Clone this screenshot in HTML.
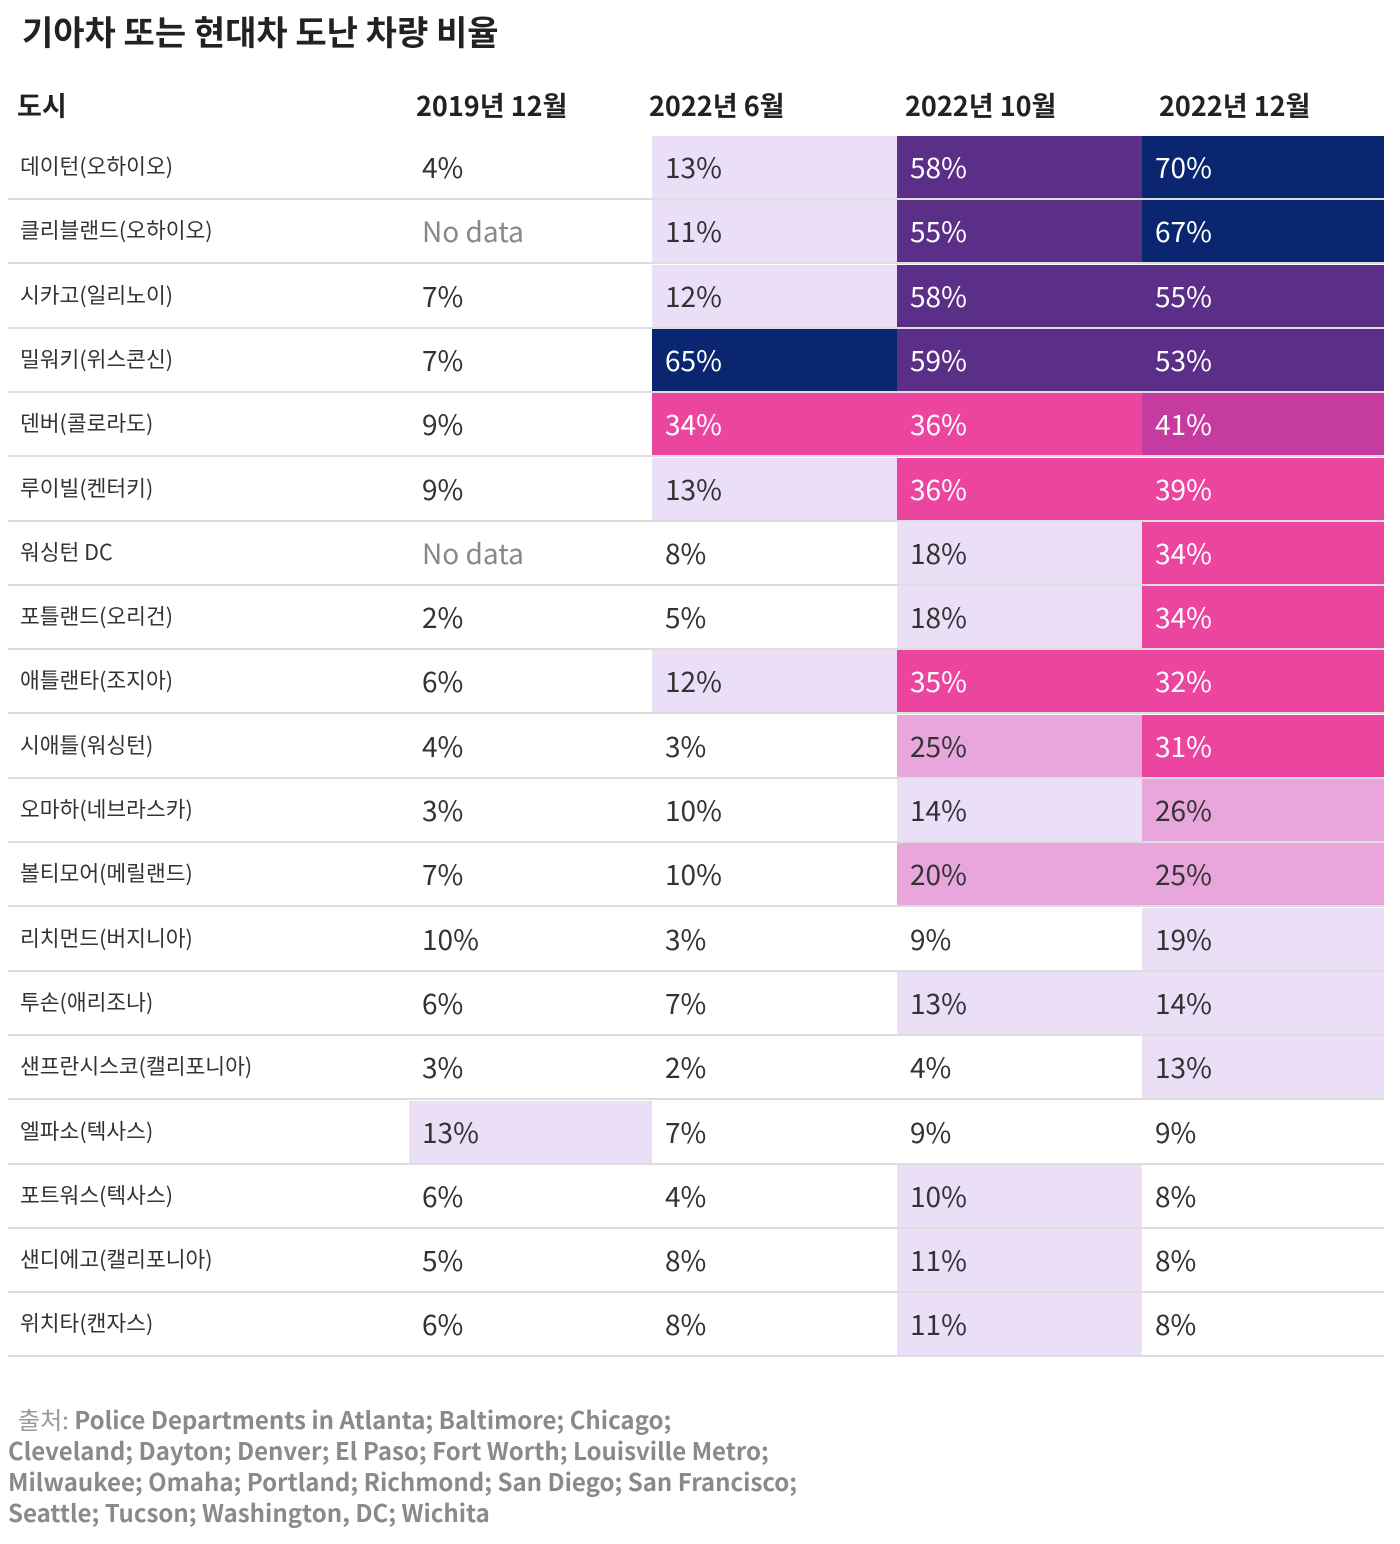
<!DOCTYPE html>
<html><head><meta charset="utf-8">
<style>
body{margin:0;width:1400px;height:1544px;background:#fff;font-family:"Noto Sans CJK KR","Liberation Sans",sans-serif;color:#222;position:relative;overflow:hidden}
#title{position:absolute;left:22px;top:6px;font-size:34px;font-weight:bold;color:#222;line-height:50px}
.hdr{position:absolute;top:85px;font-size:27px;font-weight:bold;color:#222;line-height:40px}
#tbl{position:absolute;left:8px;top:136px;width:1376px}
.row{position:absolute;left:0;width:1376px;height:64px;border-bottom:2px solid #ddd;box-sizing:border-box}
.cell{position:absolute;top:0;height:62px;line-height:62px;box-sizing:border-box;padding-left:13px;font-size:28px}
.city{font-size:21.5px;padding-left:12px;color:#333;line-height:60px}
#src{position:absolute;left:8px;top:1403px;width:900px;font-size:24px;line-height:31px;font-weight:bold;color:#8a8a8a}
</style></head><body>
<div id="title">기아차 또는 현대차 도난 차량 비율</div>
<div class="hdr" style="left:17px">도시</div>
<div class="hdr" style="left:416px">2019년 12월</div>
<div class="hdr" style="left:649px">2022년 6월</div>
<div class="hdr" style="left:905px">2022년 10월</div>
<div class="hdr" style="left:1159px">2022년 12월</div>
<div id="tbl"></div>
<div id="src"><span style="font-weight:normal;color:#999;padding-left:10px">출처: </span>Police Departments in Atlanta; Baltimore; Chicago;<br>Cleveland; Dayton; Denver; El Paso; Fort Worth; Louisville Metro;<br>Milwaukee; Omaha; Portland; Richmond; San Diego; San Francisco;<br>Seattle; Tucson; Washington, DC; Wichita</div>
<script>
const cities=["데이턴(오하이오)","클리블랜드(오하이오)","시카고(일리노이)","밀워키(위스콘신)","덴버(콜로라도)","루이빌(켄터키)","워싱턴 DC","포틀랜드(오리건)","애틀랜타(조지아)","시애틀(워싱턴)","오마하(네브라스카)","볼티모어(메릴랜드)","리치먼드(버지니아)","투손(애리조나)","샌프란시스코(캘리포니아)","엘파소(텍사스)","포트워스(텍사스)","샌디에고(캘리포니아)","위치타(캔자스)"];
const dec2019=[4,null,7,7,9,9,null,2,6,4,3,7,10,6,3,13,6,5,6];
const jun2022=[13,11,12,65,34,13,8,5,12,3,10,10,3,7,2,7,4,8,8];
const oct2022=[58,55,58,59,36,36,18,18,35,25,14,20,9,13,4,9,10.4,11,11];
const dec2022=[70,67,55,53,41,39,34,34,32,31,26,25,19,14,13,9,8,8,8];
const cols=[dec2019,jun2022,oct2022,dec2022];
const colX=[401,644,889,1134];
const colW=[243,245,245,242];
const rowH=64.3;
function color(v){
  if(v==null||v<10.2)return ["transparent","#333"];
  if(v<20)return ["#ebdff8","#333"];
  if(v<30)return ["#e8a6dc","#333"];
  if(v<40)return ["#ec45a0","#fff"];
  if(v<50)return ["#c53b9f","#fff"];
  if(v<60)return ["#5b2f88","#fff"];
  return ["#0b2670","#fff"];
}
const tbl=document.getElementById('tbl');
cities.forEach((c,i)=>{
  const r=document.createElement('div');
  r.className='row';r.style.top=(i*rowH)+'px';
  
  
  const cc=document.createElement('div');
  cc.className='cell city';cc.style.left='0px';cc.style.width='400px';cc.textContent=c;
  
  
  r.appendChild(cc);
  cols.forEach((arr,j)=>{
    const v=arr[i];const [bg,fg]=color(v);
    const d=document.createElement('div');
    d.className='cell';d.style.left=colX[j]+'px';d.style.width=colW[j]+'px';
    d.style.background=bg;d.style.color=v==null?'#888':fg;
    d.textContent=v==null?'No data':Math.round(v)+'%';
    
    
    r.appendChild(d);
  });
  tbl.appendChild(r);
});
</script>
</body></html>
